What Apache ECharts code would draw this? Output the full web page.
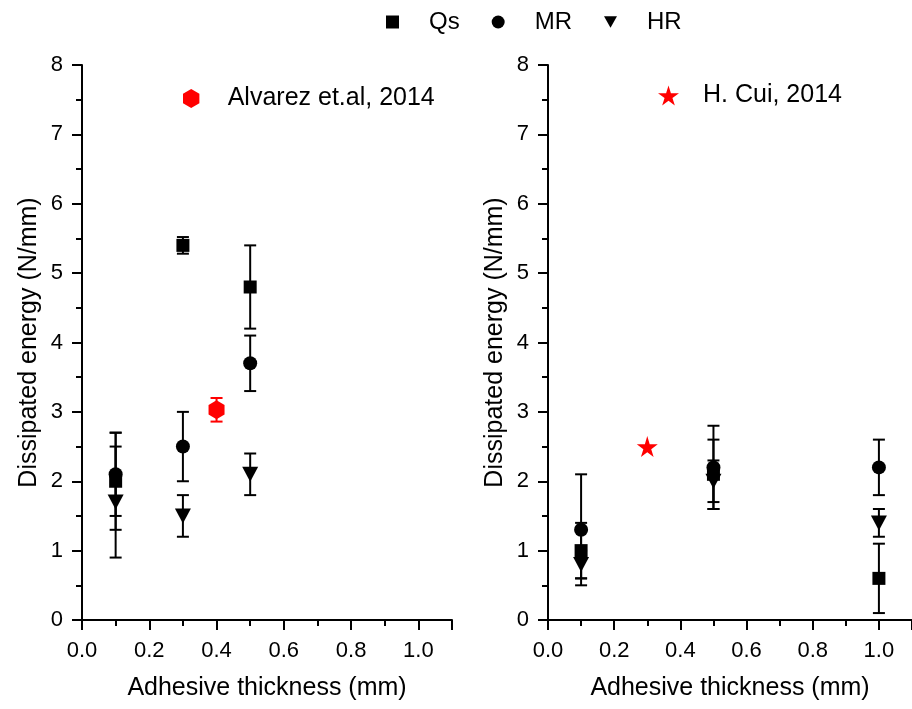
<!DOCTYPE html>
<html>
<head>
<meta charset="utf-8">
<script src="https://cdn.jsdelivr.net/npm/echarts@6/dist/echarts.min.js"></script>
<style>
  html, body { margin: 0; padding: 0; background: #fff; }
  #chart { width: 912px; height: 709px; }
</style>
</head>
<body>
<div id="chart"></div>
<script>
// left panel (this work, thicknesses 0.1 / 0.3 / 0.5 mm)
var thickLeft = [0.1, 0.3, 0.5];
var qsLeft = [2.0, 5.4, 4.8];
var qsLeftErr = [0.7, 0.12, 0.6];
var mrLeft = [2.1, 2.5, 3.7];
var mrLeftErr = [0.6, 0.5, 0.4];
var hrLeft = [1.7, 1.5, 2.1];
var hrLeftErr = [0.8, 0.3, 0.3];
var alvarezX = [0.4];
var alvarezY = [3.03];
var alvarezErr = [0.17];

// right panel (thicknesses 0.1 / 0.5 / 1.0 mm)
var thickRight = [0.1, 0.5, 1.0];
var qsRight = [1.0, 2.1, 0.6];
var qsRightErr = [0.4, 0.5, 0.5];
var mrRight = [1.3, 2.2, 2.2];
var mrRightErr = [0.8, 0.6, 0.4];
var hrRight = [0.8, 2.0, 1.4];
var hrRightErr = [0.2, 0.3, 0.2];
var cuiX = [0.3];
var cuiY = [2.5];

var FONT = '"Liberation Sans", Arial, sans-serif';
var triDown = 'path://M0,0 L10,0 L5,9 Z';
var hexagon = 'path://M5,0 L10,2.9 L10,8.7 L5,11.6 L0,8.7 L0,2.9 Z';
var star = 'path://M50,0 L61,35 L98,35 L68,57 L79,91 L50,70 L21,91 L32,57 L2,35 L39,35 Z';

function pts(xs, ys) {
  return xs.map(function (x, i) { return [x, ys[i]]; });
}
function bars(xs, ys, es) {
  return xs.map(function (x, i) { return [x, ys[i] - es[i], ys[i] + es[i]]; });
}

function errorBars(xs, ys, es, idx, color) {
  return {
    type: 'custom',
    xAxisIndex: idx,
    yAxisIndex: idx,
    silent: true,
    z: 1,
    data: bars(xs, ys, es),
    renderItem: function (params, api) {
      var x = api.value(0);
      var lo = api.coord([x, api.value(1)]);
      var hi = api.coord([x, api.value(2)]);
      var w = 6;
      var st = { stroke: color, lineWidth: 2 };
      return {
        type: 'group',
        children: [
          { type: 'line', shape: { x1: hi[0], y1: hi[1], x2: lo[0], y2: lo[1] }, style: st },
          { type: 'line', shape: { x1: hi[0] - w, y1: hi[1], x2: hi[0] + w, y2: hi[1] }, style: st },
          { type: 'line', shape: { x1: lo[0] - w, y1: lo[1], x2: lo[0] + w, y2: lo[1] }, style: st }
        ]
      };
    }
  };
}

function xAx(idx) {
  return {
    type: 'value', gridIndex: idx, min: 0, max: 1.1, interval: 0.2,
    name: 'Adhesive thickness (mm)', nameLocation: 'middle', nameGap: 56,
    nameTextStyle: { fontFamily: FONT, fontSize: 25, color: '#000' },
    axisLine: { lineStyle: { color: '#000', width: 2 } },
    axisTick: { length: 10, lineStyle: { color: '#000', width: 2 } },
    minorTick: { show: true, splitNumber: 2, length: 6, lineStyle: { color: '#000', width: 2 } },
    axisLabel: {
      fontFamily: FONT, fontSize: 22, color: '#000', margin: 20, showMaxLabel: false,
      formatter: function (v) { return v.toFixed(1); }
    },
    splitLine: { show: false }
  };
}
function yAx(idx) {
  return {
    type: 'value', gridIndex: idx, min: 0, max: 8, interval: 1,
    name: 'Dissipated energy (N/mm)', nameLocation: 'middle', nameGap: 40,
    nameTextStyle: { fontFamily: FONT, fontSize: 25, color: '#000' },
    axisLine: { lineStyle: { color: '#000', width: 2 } },
    axisTick: { length: 10, lineStyle: { color: '#000', width: 2 } },
    minorTick: { show: true, splitNumber: 2, length: 6, lineStyle: { color: '#000', width: 2 } },
    axisLabel: { fontFamily: FONT, fontSize: 22, color: '#000', margin: 19 },
    splitLine: { show: false }
  };
}

function marks(name, xs, ys, idx, symbol, size, color) {
  return {
    name: name, type: 'scatter', xAxisIndex: idx, yAxisIndex: idx,
    symbol: symbol, symbolSize: size, z: 3,
    itemStyle: { color: color, opacity: 1 },
    data: pts(xs, ys)
  };
}

var dom = document.getElementById('chart');
var myChart = echarts.init(dom, null, { renderer: 'canvas' });

var option = {
  animation: false,
  textStyle: { fontFamily: FONT },
  grid: [
    { left: 82, top: 65, width: 370, bottom: 89 },
    { left: 548, top: 65, width: 370, bottom: 89 }
  ],
  xAxis: [xAx(0), xAx(1)],
  yAxis: [yAx(0), yAx(1)],
  legend: [
    {
      left: 381, top: 5, itemGap: 32, itemWidth: 13, itemHeight: 13,
      textStyle: { fontFamily: FONT, fontSize: 24, color: '#000', padding: [0, 0, 0, 25] },
      data: [
        { name: 'Qs', icon: 'rect', itemStyle: { color: '#000' } },
        { name: 'MR', icon: 'circle', itemStyle: { color: '#000' } },
        { name: 'HR', icon: triDown, itemStyle: { color: '#000' } }
      ]
    },
    {
      left: 178, top: 81, itemWidth: 17, itemHeight: 19,
      textStyle: { fontFamily: FONT, fontSize: 25, color: '#000', padding: [0, 0, 0, 23] },
      data: [{ name: 'Alvarez et.al, 2014', icon: hexagon, itemStyle: { color: '#ff0000' } }]
    },
    {
      left: 653, top: 78, itemWidth: 21, itemHeight: 20,
      textStyle: { fontFamily: FONT, fontSize: 25, color: '#000', padding: [0, 0, 0, 19] },
      data: [{ name: 'H. Cui, 2014', icon: star, itemStyle: { color: '#ff0000' } }]
    }
  ],
  series: [
    errorBars(thickLeft, qsLeft, qsLeftErr, 0, '#000'),
    errorBars(thickLeft, mrLeft, mrLeftErr, 0, '#000'),
    errorBars(thickLeft, hrLeft, hrLeftErr, 0, '#000'),
    errorBars(alvarezX, alvarezY, alvarezErr, 0, '#ff0000'),
    errorBars(thickRight, qsRight, qsRightErr, 1, '#000'),
    errorBars(thickRight, mrRight, mrRightErr, 1, '#000'),
    errorBars(thickRight, hrRight, hrRightErr, 1, '#000'),
    marks('Qs', thickLeft, qsLeft, 0, 'rect', 13, '#000'),
    marks('MR', thickLeft, mrLeft, 0, 'circle', 14, '#000'),
    marks('HR', thickLeft, hrLeft, 0, triDown, [16, 15], '#000'),
    marks('Alvarez et.al, 2014', alvarezX, alvarezY, 0, hexagon, [16, 19], '#ff0000'),
    marks('Qs', thickRight, qsRight, 1, 'rect', 13, '#000'),
    marks('MR', thickRight, mrRight, 1, 'circle', 14, '#000'),
    marks('HR', thickRight, hrRight, 1, triDown, [16, 15], '#000'),
    marks('H. Cui, 2014', cuiX, cuiY, 1, star, 21, '#ff0000')
  ]
};

myChart.setOption(option);
window.addEventListener('resize', myChart.resize);
</script>
</body>
</html>
